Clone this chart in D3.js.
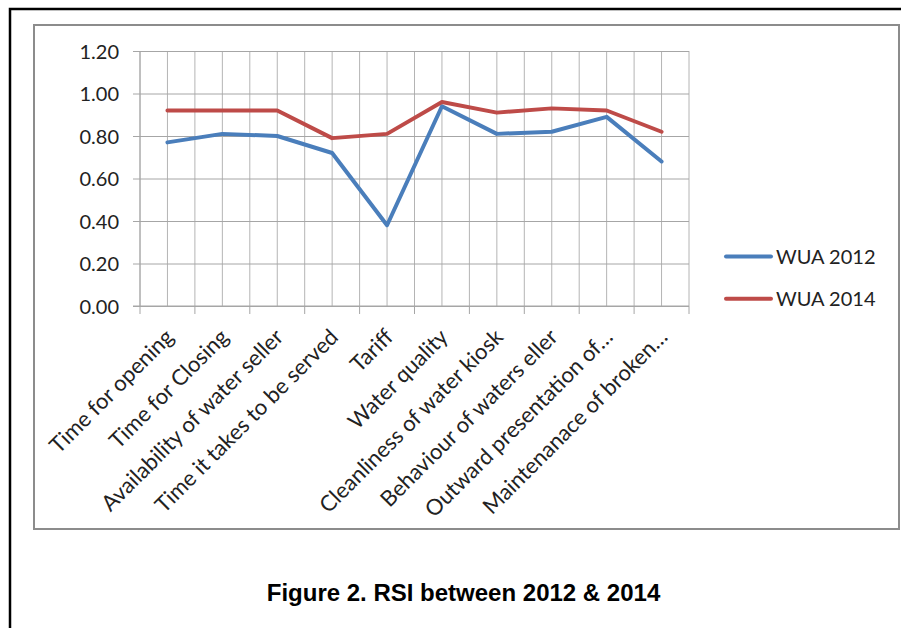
<!DOCTYPE html>
<html><head><meta charset="utf-8">
<script src="https://cdn.jsdelivr.net/npm/d3@7"></script>
<style>body{margin:0;background:#fff}svg{display:block}</style>
</head><body><svg id="c" width="901" height="628"></svg>
<script>
const categories = ["Time for opening","Time for Closing","Availability of water seller","Time it takes to be served","Tariff","Water quality","Cleanliness of water kiosk","Behaviour of waters eller","Outward presentation of…","Maintenanace of broken…"];
const wua2012 = [0.77,0.81,0.80,0.72,0.38,0.94,0.81,0.82,0.89,0.68];
const wua2014 = [0.92,0.92,0.92,0.79,0.81,0.96,0.91,0.93,0.92,0.82];
const seriesNames = ["WUA 2012","WUA 2014"];
const yTicks = [0,0.2,0.4,0.6,0.8,1.0,1.2];
const title = "Figure 2. RSI between 2012 & 2014";
const colors = ["#4a7ebb","#be4b48"];

const svg = d3.select("#c");
const font = "Lato, 'Open Sans', sans-serif";
// outer border
svg.append("rect").attr("x",10).attr("y",9).attr("width",960).attr("height",700)
  .attr("fill","none").attr("stroke","#000").attr("stroke-width",2.5);
// chart frame
svg.append("rect").attr("x",34).attr("y",25).attr("width",865).attr("height",504)
  .attr("fill","#fff").attr("stroke","#8c8c8c").attr("stroke-width",2);

const L=140,R=689,T=51,B=306;
const x = d3.scaleBand().domain(categories).range([L,R]).padding(0);
const y = d3.scaleLinear().domain([0,1.2]).range([B,T]);
const g = svg.append("g");
// vertical grid at boundaries and centers
const vlines=[];
categories.forEach(c=>{vlines.push(x(c)); vlines.push(x(c)+x.bandwidth()/2);});
vlines.push(R);
g.selectAll("line.v").data(vlines).join("line").attr("x1",d=>d).attr("x2",d=>d)
  .attr("y1",T).attr("y2",B).attr("stroke","#b4b4b4").attr("stroke-width",1);
// y axis
const ya = d3.axisLeft(y).tickValues(yTicks).tickFormat(d3.format(".2f")).tickSize(-(R-L)).tickPadding(0);
const yg = g.append("g").attr("transform",`translate(${L},0)`).call(ya);
yg.select(".domain").remove();
yg.selectAll(".tick line").attr("stroke","#a6a6a6").attr("x1",-7);
yg.selectAll(".tick text").attr("x",-21).attr("font-family",font).attr("font-size",20).attr("fill","#222").attr("dy","0.35em");
g.append("line").attr("x1",L).attr("x2",L).attr("y1",T).attr("y2",B+1).attr("stroke","#a6a6a6");
// x axis
const xa = d3.axisBottom(x).tickSize(0).tickPadding(0);
const xg = g.append("g").attr("transform",`translate(0,${B})`).call(xa);
xg.select(".domain").remove();
const bounds=[...categories.map(c=>x(c)),R];
g.selectAll("line.xt").data(bounds).join("line").attr("x1",d=>d).attr("x2",d=>d).attr("y1",B).attr("y2",B+8).attr("stroke","#a6a6a6");
g.append("line").attr("x1",L-7).attr("x2",R).attr("y1",B).attr("y2",B).attr("stroke","#a6a6a6");
xg.selectAll(".tick text").attr("font-family",font).attr("font-size",22).attr("fill","#222")
  .attr("text-anchor","end").attr("transform","translate(2,27) rotate(-45)").attr("dy","0.35em").attr("y",0);
// lines
const line = d3.line().x((d,i)=>x(categories[i])+x.bandwidth()/2).y(d=>y(d));
[wua2012,wua2014].forEach((s,i)=>{
  g.append("path").datum(s).attr("d",line).attr("fill","none").attr("stroke",colors[i]).attr("stroke-width",4).attr("stroke-linejoin","round").attr("stroke-linecap","round");
});
// legend
seriesNames.forEach((n,i)=>{
  const ly=256.5+i*42.3;
  svg.append("line").attr("x1",726).attr("x2",771).attr("y1",ly).attr("y2",ly).attr("stroke",colors[i]).attr("stroke-width",4).attr("stroke-linecap","round");
  svg.append("text").attr("x",776).attr("y",ly+7.5).text(n).attr("font-family",font).attr("font-size",20).attr("fill","#222");
});
svg.append("text").attr("x",463.5).attr("y",601).attr("text-anchor","middle").text(title)
  .attr("font-family","'Liberation Sans', Arial, sans-serif").attr("font-weight","bold").attr("font-size",24).attr("fill","#000");
</script></body></html>
